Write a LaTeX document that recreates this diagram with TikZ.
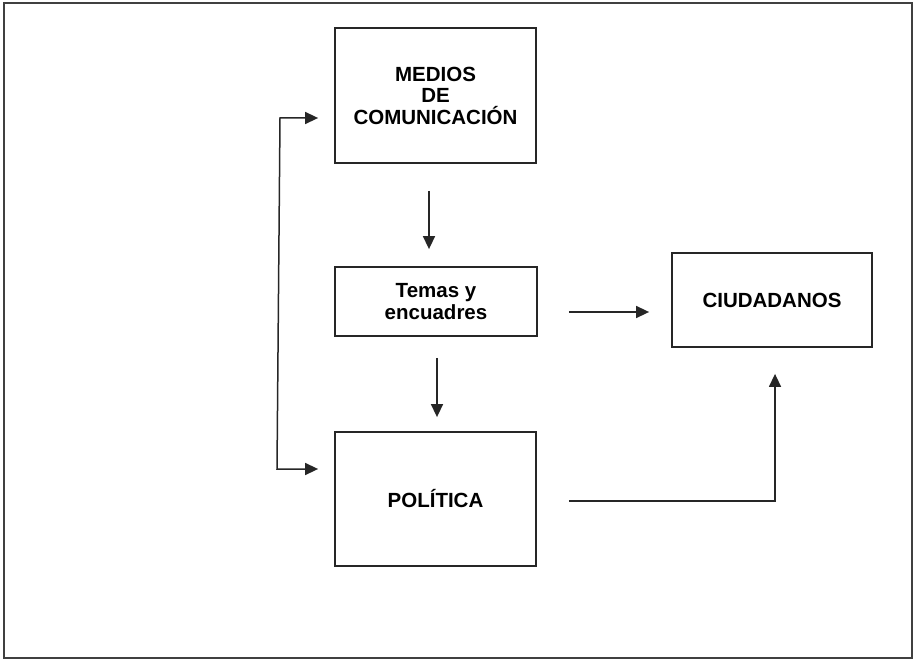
\documentclass[tikz,border=0pt]{standalone}
\usepackage{fontspec}
\setmainfont{Liberation Sans}
\usetikzlibrary{arrows.meta}
\begin{document}
\begin{tikzpicture}[x=1pt,y=-1pt,
  boxnode/.style={draw=black!85,line width=1.8pt,rectangle,align=center,inner sep=0pt,
    font=\fontsize{20.5}{21.5}\selectfont\bfseries},
  conn/.style={draw=black!85,line width=1.5pt,-{Triangle[length=13pt,width=12pt]}},
  bothconn/.style={draw=black!85,line width=1.5pt,{Triangle[length=13pt,width=12pt]}-{Triangle[length=13pt,width=12pt]}}
]
\useasboundingbox (0,0) rectangle (915,660);
\draw[draw=black!75,line width=1.8pt] (4,3) rectangle (912,658);

\node[boxnode,minimum width=201pt,minimum height=135pt] (medios) at (435.5,95.5) {MEDIOS\\DE\\COMUNICACIÓN};
\node[boxnode,minimum width=202pt,minimum height=69pt] (temas) at (436,301.5) {Temas y\\encuadres};
\node[boxnode,minimum width=200pt,minimum height=94pt] (ciud) at (772,300) {CIUDADANOS};
\node[boxnode,minimum width=201pt,minimum height=134pt] (pol) at (435.5,499) {POLÍTICA};

\coordinate (tl) at (280,118);
\coordinate (bl) at (277,469);

\draw[conn,shorten <=27pt,shorten >=17pt] ([xshift=-6.5pt]medios.south) -- ([xshift=-7pt]temas.north);
\draw[conn,shorten <=21pt,shorten >=14pt] ([xshift=1pt]temas.south) -- ([xshift=1.5pt]pol.north);
\draw[conn,shorten <=31pt,shorten >=22pt] ([yshift=-10.5pt]temas.east) -- ([yshift=-12pt]ciud.west);
\draw[conn,shorten <=32pt,shorten >=26pt] ([yshift=-2pt]pol.east) -| ([xshift=3pt]ciud.south);
\draw[bothconn,shorten <=16pt,shorten >=16pt] ([yshift=-22.5pt]medios.west) -- (tl) -- (bl) -- ([yshift=30pt]pol.west);
\end{tikzpicture}
\end{document}
